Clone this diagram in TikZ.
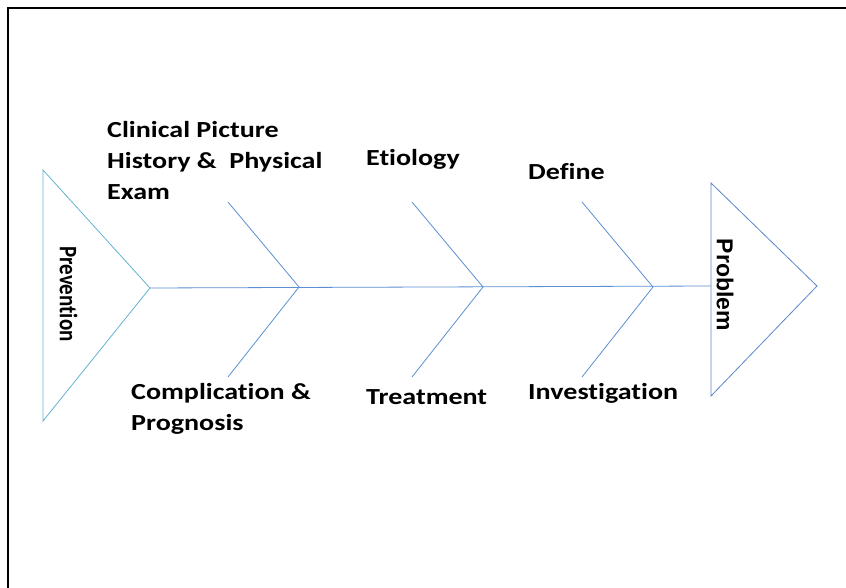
\documentclass[tikz,border=0pt]{standalone}
\usepackage{fontspec}
\setmainfont{Carlito}[FakeStretch=1.22, Ligatures=NoCommon]
\newfontfamily\plainfont{Carlito}[Ligatures=NoCommon]
\newfontfamily\arialfont{Liberation Sans}
\definecolor{bonecol}{HTML}{5B8FD2}
\definecolor{prevcol}{HTML}{62B2D2}
\definecolor{probcol}{HTML}{5A86CA}
\begin{document}
\begin{tikzpicture}[x=1pt,y=-1pt,
    bone/.style={draw=bonecol, line width=0.8pt},
    lbl/.style={anchor=base west, inner sep=0pt, align=left,
      font=\bfseries\fontsize{23}{31}\selectfont}]
  \useasboundingbox (0,0) rectangle (846,588);
  \draw[line width=2.5pt] (846,8) -- (8,8) -- (8,588);
  % head and tail
  \draw[draw=prevcol, line width=0.8pt] (43,170) -- (150,288) coordinate (prevA) -- (43,421) -- cycle;
  \draw[draw=probcol, line width=0.8pt] (711,183) -- (817,286) -- (711,396) -- cycle;
  \coordinate (probL) at (711,286);
  \node[rotate=-90, yscale=1.2, inner sep=0pt, font=\plainfont\bfseries\fontsize{21}{23}\selectfont] (prev) at (68.5,294) {Prevention};
  \node[rotate=-90, inner sep=0pt, font=\arialfont\bfseries\fontsize{23}{25}\selectfont] (prob) at (725,285) {Problem};
  % spine and bones
  \draw[bone] (prevA) -- (probL);
  \foreach \n/\x in {j1/299, j2/483, j3/653} {
    \coordinate (\n) at (\x,287);
    \draw[bone] (\x-71,202) -- (\n) -- (\x-71,377);
  }
  \node[lbl] (clin) at (107,200) {Clinical Picture\\History \&\ \ Physical\\Exam};
  \node[lbl] (etio) at (366,166) {Etiology};
  \node[lbl] (defn) at (528,180) {Define};
  \node[lbl] (comp) at (131,430) {Complication \&\\Prognosis};
  \node[lbl] (treat) at (366,404) {Treatment};
  \node[lbl] (inv) at (528,399) {Investigation};
\end{tikzpicture}
\end{document}
